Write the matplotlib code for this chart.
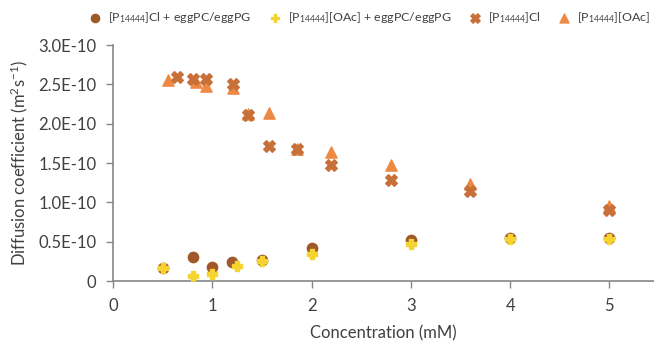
import matplotlib
matplotlib.use("Agg")
from matplotlib import pyplot as plt
from matplotlib.ticker import FixedLocator, FixedFormatter

# [P14444]Cl + eggPC/eggPG
cl_lip_x = [0.5, 0.8, 1.0, 1.2, 1.5, 2.0, 3.0, 4.0, 5.0]
cl_lip_y = [0.17, 0.30, 0.18, 0.24, 0.27, 0.42, 0.52, 0.55, 0.55]

# [P14444][OAc] + eggPC/eggPG
oac_lip_x = [0.5, 0.8, 1.0, 1.25, 1.5, 2.0, 3.0, 4.0, 5.0]
oac_lip_y = [0.17, 0.06, 0.09, 0.19, 0.26, 0.34, 0.47, 0.54, 0.54]

# [P14444]Cl
cl_x = [0.64, 0.8, 0.94, 1.21, 1.36, 1.57, 1.85, 2.2, 2.8, 3.6, 5.0]
cl_y = [2.60, 2.57, 2.57, 2.50, 2.11, 1.72, 1.68, 1.47, 1.29, 1.15, 0.90]

# [P14444][OAc]
oac_x = [0.55, 0.83, 0.94, 1.21, 1.36, 1.57, 1.85, 2.2, 2.8, 3.6, 5.0]
oac_y = [2.56, 2.53, 2.48, 2.45, 2.12, 2.14, 1.68, 1.64, 1.47, 1.23, 0.96]

y_ticks = [0, 0.5, 1.0, 1.5, 2.0, 2.5, 3.0]
y_tick_labels = ["0", "0.5E-10", "1.0E-10", "1.5E-10", "2.0E-10", "2.5E-10", "3.0E-10"]
x_ticks = [0, 1, 2, 3, 4, 5]

plt.rcParams["font.family"] = ["Lato", "DejaVu Sans"]
plt.rcParams["mathtext.fontset"] = "custom"
plt.rcParams["mathtext.rm"] = "Lato"
plt.rcParams["mathtext.default"] = "regular"

fig = plt.figure(figsize=(6.54, 3.47), dpi=100)
ax = fig.add_axes([0.173, 0.19, 0.827, 0.68])

ax.scatter(cl_lip_x, cl_lip_y, s=55, marker="o", color="#A0582A",
           label=r"[P$_{14444}$]Cl + eggPC/eggPG", zorder=3)
ax.scatter(oac_lip_x, oac_lip_y, s=60, marker="P", color="#F5D330",
           label=r"[P$_{14444}$][OAc] + eggPC/eggPG", zorder=4)
ax.scatter(cl_x, cl_y, s=70, marker="X", color="#C8703A",
           label=r"[P$_{14444}$]Cl", zorder=5)
ax.scatter(oac_x, oac_y, s=65, marker="^", color="#EE8944",
           label=r"[P$_{14444}$][OAc]", zorder=4)

ax.set_xlim(0, 5.45)
ax.set_ylim(0, 3.0)
ax.yaxis.set_major_locator(FixedLocator(y_ticks))
ax.yaxis.set_major_formatter(FixedFormatter(y_tick_labels))
ax.set_xticks(x_ticks)

for side in ["top", "right"]:
    ax.spines[side].set_visible(False)
for side in ["left", "bottom"]:
    ax.spines[side].set_color("#868686")
    ax.spines[side].set_linewidth(1.2)
ax.tick_params(axis="both", colors="#868686", labelcolor="#404040",
               labelsize=12, length=5, width=1)
ax.tick_params(axis="y", pad=7)
ax.tick_params(axis="x", pad=7)

ax.set_xlabel("Concentration (mM)", fontsize=12, color="#404040", labelpad=8)
ax.set_ylabel(r"Diffusion coefficient (m$^{2}$s$^{-1}$)", fontsize=12,
              color="#404040", labelpad=6)

fig.legend(loc="upper right", bbox_to_anchor=(0.998, 0.978), ncol=4,
           frameon=False, fontsize=8.9, handletextpad=0.05,
           columnspacing=0.9, markerscale=0.8, labelcolor="#404040",
           borderaxespad=0.0, borderpad=0.2)

fig.savefig("out.png", dpi=100)
